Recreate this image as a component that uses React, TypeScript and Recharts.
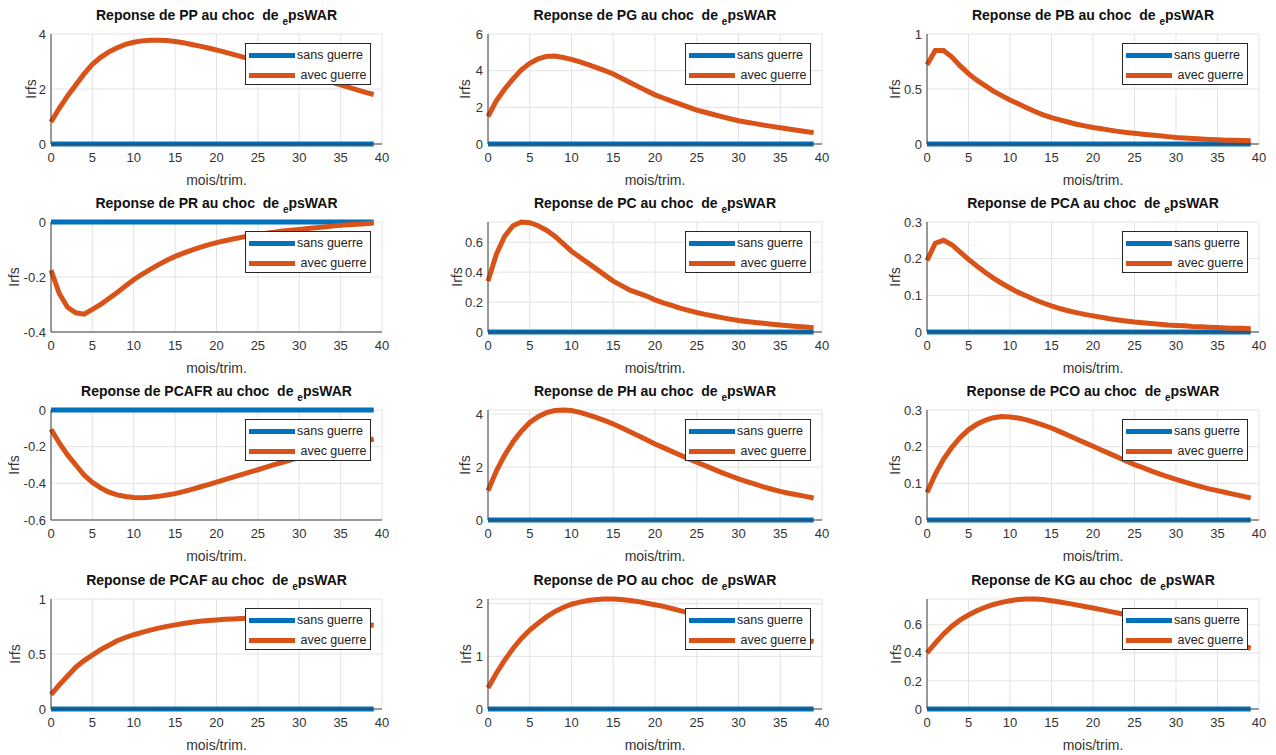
import React from 'react';
import { LineChart, Line, XAxis, YAxis, CartesianGrid, Legend } from 'recharts';

const FONT = '"Liberation Sans", Arial, Helvetica, sans-serif';
const BLUE = '#0072BD';
const ORANGE = '#D95319';

const periods = [0,1,2,3,4,5,6,7,8,9,10,11,12,13,14,15,16,17,18,19,20,21,22,23,24,25,26,27,28,29,30,31,32,33,34,35,36,37,38,39];
const sansGuerre = [0,0,0,0,0,0,0,0,0,0,0,0,0,0,0,0,0,0,0,0,0,0,0,0,0,0,0,0,0,0,0,0,0,0,0,0,0,0,0,0];
const xTicks = [0,5,10,15,20,25,30,35,40];
const seriesNames = ['sans guerre', ' avec guerre'];

const PP = [0.80,1.30,1.75,2.15,2.55,2.90,3.15,3.35,3.50,3.62,3.70,3.75,3.77,3.77,3.76,3.73,3.68,3.62,3.56,3.49,3.42,3.34,3.26,3.18,3.10,3.02,2.94,2.86,2.77,2.69,2.60,2.51,2.42,2.33,2.24,2.15,2.06,1.97,1.88,1.80];
const PG = [1.50,2.35,3.00,3.55,4.05,4.40,4.65,4.78,4.80,4.72,4.62,4.48,4.33,4.17,4.00,3.82,3.59,3.36,3.13,2.90,2.68,2.51,2.34,2.17,2.01,1.85,1.73,1.61,1.49,1.38,1.27,1.19,1.11,1.03,0.96,0.89,0.82,0.75,0.68,0.62];
const PB = [0.72,0.85,0.85,0.79,0.71,0.64,0.58,0.53,0.48,0.44,0.40,0.365,0.33,0.295,0.265,0.24,0.22,0.20,0.18,0.165,0.15,0.138,0.126,0.115,0.105,0.097,0.089,0.081,0.074,0.067,0.06,0.055,0.05,0.046,0.042,0.038,0.035,0.033,0.031,0.03];
const PR = [-0.175,-0.26,-0.31,-0.33,-0.335,-0.318,-0.30,-0.278,-0.256,-0.233,-0.21,-0.19,-0.172,-0.155,-0.139,-0.125,-0.113,-0.102,-0.092,-0.083,-0.075,-0.068,-0.062,-0.056,-0.050,-0.045,-0.041,-0.037,-0.033,-0.030,-0.027,-0.024,-0.021,-0.018,-0.015,-0.012,-0.010,-0.008,-0.006,-0.004];
const PC = [0.34,0.52,0.64,0.71,0.735,0.73,0.71,0.68,0.64,0.59,0.54,0.50,0.46,0.42,0.38,0.34,0.31,0.28,0.26,0.24,0.215,0.195,0.178,0.160,0.144,0.130,0.118,0.107,0.096,0.086,0.077,0.070,0.064,0.058,0.052,0.047,0.042,0.037,0.033,0.029];
const PCA = [0.195,0.242,0.25,0.238,0.218,0.198,0.18,0.163,0.147,0.133,0.12,0.108,0.098,0.088,0.079,0.071,0.064,0.058,0.053,0.048,0.044,0.040,0.036,0.033,0.030,0.027,0.025,0.023,0.021,0.019,0.018,0.017,0.015,0.014,0.013,0.012,0.011,0.010,0.010,0.009];
const PCAFR = [-0.105,-0.18,-0.245,-0.30,-0.355,-0.395,-0.425,-0.448,-0.463,-0.472,-0.477,-0.478,-0.476,-0.471,-0.464,-0.456,-0.445,-0.433,-0.420,-0.407,-0.393,-0.380,-0.366,-0.353,-0.339,-0.326,-0.312,-0.298,-0.285,-0.272,-0.260,-0.248,-0.236,-0.225,-0.214,-0.203,-0.192,-0.180,-0.169,-0.158];
const PH = [1.10,1.85,2.45,2.95,3.35,3.68,3.90,4.05,4.13,4.15,4.13,4.06,3.97,3.86,3.75,3.62,3.48,3.33,3.18,3.03,2.87,2.73,2.59,2.45,2.31,2.18,2.05,1.92,1.79,1.67,1.55,1.45,1.35,1.25,1.16,1.08,1.01,0.95,0.89,0.83];
const PCO = [0.075,0.125,0.166,0.198,0.225,0.246,0.261,0.272,0.279,0.282,0.281,0.278,0.273,0.266,0.259,0.251,0.241,0.231,0.221,0.211,0.201,0.191,0.181,0.171,0.161,0.151,0.143,0.134,0.126,0.118,0.111,0.104,0.097,0.091,0.085,0.080,0.075,0.070,0.065,0.060];
const PCAF = [0.13,0.22,0.30,0.38,0.44,0.49,0.54,0.58,0.62,0.65,0.675,0.697,0.717,0.735,0.751,0.765,0.777,0.788,0.797,0.804,0.810,0.815,0.819,0.822,0.824,0.825,0.825,0.824,0.822,0.819,0.815,0.810,0.804,0.798,0.792,0.786,0.780,0.774,0.768,0.762];
const PO = [0.40,0.68,0.93,1.15,1.34,1.50,1.63,1.75,1.85,1.93,1.99,2.03,2.06,2.08,2.09,2.09,2.08,2.06,2.04,2.01,1.98,1.95,1.91,1.87,1.83,1.79,1.75,1.71,1.67,1.63,1.59,1.55,1.51,1.47,1.43,1.40,1.37,1.34,1.31,1.28];
const KG = [0.40,0.47,0.535,0.59,0.635,0.67,0.70,0.725,0.745,0.76,0.772,0.780,0.784,0.784,0.780,0.772,0.763,0.753,0.742,0.731,0.720,0.708,0.696,0.684,0.672,0.660,0.645,0.630,0.614,0.598,0.582,0.565,0.548,0.531,0.515,0.498,0.482,0.465,0.449,0.433];

const panels = [
  { name: 'PP', values: PP, yDomain: [0, 4], yTicks: [0, 2, 4], col: 0, row: 0, ylabOff: 20 },
  { name: 'PG', values: PG, yDomain: [0, 6], yTicks: [0, 2, 4, 6], col: 1, row: 0, ylabOff: 23 },
  { name: 'PB', values: PB, yDomain: [0, 1], yTicks: [0, 0.5, 1], col: 2, row: 0, ylabOff: 32 },
  { name: 'PR', values: PR, yDomain: [-0.4, 0], yTicks: [-0.4, -0.2, 0], col: 0, row: 1, ylabOff: 37 },
  { name: 'PC', values: PC, yDomain: [0, 0.735], yTicks: [0, 0.2, 0.4, 0.6], col: 1, row: 1, ylabOff: 31 },
  { name: 'PCA', values: PCA, yDomain: [0, 0.3], yTicks: [0, 0.1, 0.2, 0.3], col: 2, row: 1, ylabOff: 32 },
  { name: 'PCAFR', values: PCAFR, yDomain: [-0.6, 0], yTicks: [-0.6, -0.4, -0.2, 0], col: 0, row: 2, ylabOff: 37 },
  { name: 'PH', values: PH, yDomain: [0, 4.15], yTicks: [0, 2, 4], col: 1, row: 2, ylabOff: 23 },
  { name: 'PCO', values: PCO, yDomain: [0, 0.3], yTicks: [0, 0.1, 0.2, 0.3], col: 2, row: 2, ylabOff: 32 },
  { name: 'PCAF', values: PCAF, yDomain: [0, 1], yTicks: [0, 0.5, 1], col: 0, row: 3, ylabOff: 36 },
  { name: 'PO', values: PO, yDomain: [0, 2.09], yTicks: [0, 1, 2], col: 1, row: 3, ylabOff: 22 },
  { name: 'KG', values: KG, yDomain: [0, 0.784], yTicks: [0, 0.2, 0.4, 0.6], col: 2, row: 3, ylabOff: 31 },
];

const colLeft = [51, 488, 927];
const colW = [331, 334, 332];
const rowTop = [34, 222, 410, 599];
const PLOT_H = 110;
const ML = 60;
const MT = 34;
const MR = 20;
const MB = 46;

const LegendContent = (props: any) => {
  const payload = [...(props.payload || [])].sort((a: any, b: any) => (a.dataKey === 'sans' ? -1 : 1) - (b.dataKey === 'sans' ? -1 : 1));
  return (
    <div style={{ width: 126, height: 42, border: '1px solid #262626', background: '#fff', boxSizing: 'border-box', position: 'relative', fontFamily: FONT, fontSize: 12.5, color: '#222' }}>
      {payload.map((p: any, i: number) => (
        <React.Fragment key={i}>
          <div style={{ position: 'absolute', left: 3, top: 9 + i * 20, width: 46, height: 5, background: p.color }} />
          <span style={{ position: 'absolute', left: 51, top: 4 + i * 20, lineHeight: '15px', whiteSpace: 'pre' }}>{p.value}</span>
        </React.Fragment>
      ))}
    </div>
  );
};

function Panel({ p }: { p: any }) {
  const plotW = colW[p.col];
  const left = colLeft[p.col] - ML;
  const top = rowTop[p.row] - MT;
  const W = ML + plotW + MR;
  const H = MT + PLOT_H + MB;
  const data = periods.map((t, i) => ({ t, sans: sansGuerre[i], avec: p.values[i] }));
  const axisColor = '#404040';
  const tickStyle = { fill: '#333', fontSize: 13, fontFamily: FONT };
  return (
    <div style={{ position: 'absolute', left, top, width: W, height: H }}>
      <LineChart width={W} height={H} data={data} margin={{ top: MT, right: MR, bottom: 16, left: 0 }}>
        <CartesianGrid stroke="#e3e3e3" strokeWidth={1} />
        <XAxis dataKey="t" type="number" domain={[0, 40]} ticks={xTicks} height={30} tickLine={false} tickSize={4} tickMargin={5} axisLine={{ stroke: axisColor }} tick={tickStyle} interval={0} />
        <XAxis xAxisId="top" orientation="top" dataKey="t" type="number" domain={[0, 40]} ticks={xTicks} height={0} tick={false} tickLine={false} axisLine={{ stroke: axisColor }} />
        <YAxis type="number" domain={p.yDomain} ticks={p.yTicks} width={ML} tickLine={false} tickSize={3} tickMargin={2} axisLine={{ stroke: axisColor }} tick={tickStyle} interval={0} />
        <YAxis yAxisId="right" orientation="right" type="number" domain={p.yDomain} ticks={p.yTicks} width={0} tick={false} tickLine={false} axisLine={{ stroke: axisColor }} />
        <Line dataKey="sans" name={seriesNames[0]} stroke={BLUE} strokeWidth={5} dot={false} isAnimationActive={false} type="linear" />
        <Line dataKey="avec" name={seriesNames[1]} stroke={ORANGE} strokeWidth={5} dot={false} isAnimationActive={false} type="linear" />
        <Legend layout="vertical" verticalAlign="middle" align="center" content={<LegendContent />} wrapperStyle={{ position: 'absolute', left: ML + plotW - 11 - 126, top: MT + 9, width: 126, height: 42, margin: 0 }} />
      </LineChart>
      <div style={{ position: 'absolute', left: ML, top: MT - 27, width: plotW, textAlign: 'center', fontFamily: FONT, fontWeight: 'bold', fontSize: 14, lineHeight: '16px', color: '#111', whiteSpace: 'pre' }}>
        {'Reponse de ' + p.name + ' au choc  de '}
        <span style={{ fontSize: 10, position: 'relative', top: 5 }}>e</span>
        {'psWAR'}
      </div>
      <div style={{ position: 'absolute', left: ML - p.ylabOff, top: MT + PLOT_H / 2, transform: 'translate(-50%, -50%) rotate(-90deg)', fontFamily: FONT, fontSize: 14, color: '#333', whiteSpace: 'pre', lineHeight: '16px' }}>
        Irfs
      </div>
      <div style={{ position: 'absolute', left: ML, top: MT + PLOT_H + 28, width: plotW, textAlign: 'center', fontFamily: FONT, fontSize: 14, lineHeight: '16px', color: '#333' }}>
        mois/trim.
      </div>
    </div>
  );
}

export default function App() {
  return (
    <div style={{ position: 'absolute', left: 0, top: 0, width: 1276, height: 755, background: '#fff', overflow: 'hidden' }}>
      {panels.map((p) => (
        <Panel key={p.name} p={p} />
      ))}
    </div>
  );
}
